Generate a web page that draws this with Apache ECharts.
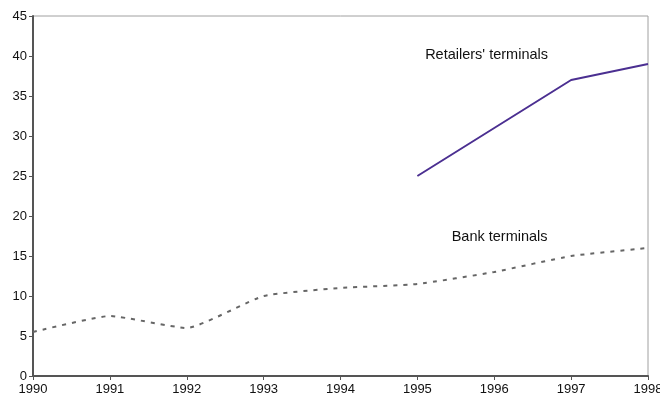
<!DOCTYPE html>
<html>
<head>
<meta charset="utf-8">
<script src="https://cdn.jsdelivr.net/npm/echarts@6/dist/echarts.min.js"></script>
<style>
  html, body { margin: 0; padding: 0; background: #fff; }
  #chart { width: 660px; height: 400px; }
</style>
</head>
<body>
<div id="chart"></div>
<script>
var chart = echarts.init(document.getElementById("chart"));

// years on the x axis
var years = [1990, 1991, 1992, 1993, 1994, 1995, 1996, 1997, 1998];
// bank terminals, one value per year
var bankValues = [5.5, 7.5, 6, 10, 11, 11.5, 13, 15, 16];
// retailers' terminals, only from 1995
var retailYears = [1995, 1996, 1997, 1998];
var retailValues = [25, 31, 37, 39];

var bankData = years.map(function (y, i) { return [y, bankValues[i]]; });
var retailData = retailYears.map(function (y, i) { return [y, retailValues[i]]; });

var fontFam = 'Liberation Sans, Arial, sans-serif';
var labelFont = { fontFamily: fontFam, fontSize: 14.5, color: '#111' };

var option = {
    animation: false,
    grid: {
        left: 33, right: 12, top: 16, bottom: 24,
        outerBoundsMode: 'none',
        containLabel: false,
        show: true, borderColor: '#a0a0a0', borderWidth: 1
    },
    xAxis: {
        type: 'value',
        min: 1990, max: 1998, interval: 1,
        axisLine: { show: true, lineStyle: { color: '#555', width: 2 } },
        axisTick: { show: true, length: 4, lineStyle: { color: '#555' } },
        splitLine: { show: false },
        axisLabel: {
            color: '#111', fontSize: 13, margin: 7,
            fontFamily: fontFam,
            formatter: function (v) { return String(v); }
        }
    },
    yAxis: {
        type: 'value',
        min: 0, max: 45, interval: 5,
        axisLine: { show: true, lineStyle: { color: '#555', width: 2 } },
        axisTick: { show: true, length: 4, lineStyle: { color: '#555' } },
        splitLine: { show: false },
        axisLabel: {
            color: '#111', fontSize: 13, margin: 6,
            fontFamily: fontFam
        }
    },
    series: [
        {
            name: 'Bank terminals',
            type: 'line',
            data: bankData,
            smooth: 0.15,
            symbol: 'none',
            lineStyle: { color: '#666', width: 2, type: [4, 6] },
            markPoint: {
                symbol: 'circle', symbolSize: 0,
                data: [{ coord: [1996.07, 17.4], value: 'Bank terminals' }],
                label: Object.assign({ show: true, position: 'inside', formatter: '{c}' }, labelFont)
            }
        },
        {
            name: "Retailers' terminals",
            type: 'line',
            data: retailData,
            symbol: 'none',
            lineStyle: { color: '#4b2f91', width: 2 },
            markPoint: {
                symbol: 'circle', symbolSize: 0,
                data: [{ coord: [1995.9, 40.1], value: "Retailers' terminals" }],
                label: Object.assign({ show: true, position: 'inside', formatter: '{c}' }, labelFont)
            }
        }
    ]
};

chart.setOption(option, true);
</script>
</body>
</html>
